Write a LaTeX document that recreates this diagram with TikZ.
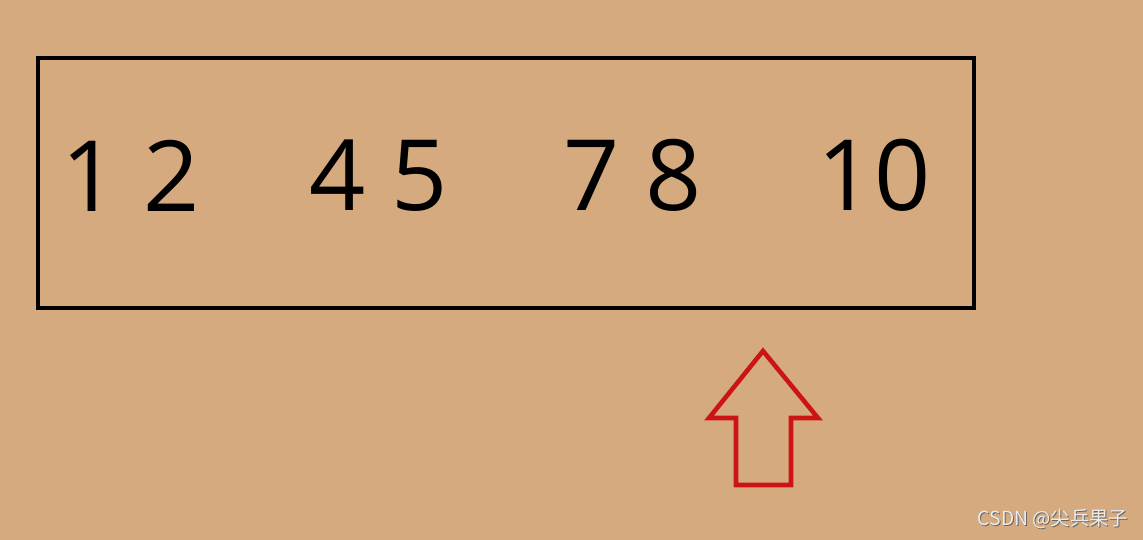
\documentclass[tikz,border=0pt]{standalone}
\usepackage{fontspec}
\setmainfont{Open Sans}
\newfontfamily\cjk{Noto Sans CJK SC}
\definecolor{tanbg}{RGB}{214,170,127}
\definecolor{arrowred}{RGB}{204,20,20}
\tikzset{
  numgroup/.style={inner sep=0pt,font=\fontsize{56}{68}\selectfont},
}
\begin{document}
\begin{tikzpicture}
  \fill[tanbg] (0,0) rectangle (22.86,10.8);
  \useasboundingbox (0,0) rectangle (22.86,10.8);

  \draw[line width=2.7pt] (0.76,9.64) rectangle (19.48,4.64);

  \node[numgroup] (g12) at (2.62,7.29) {1 2};
  \node[numgroup] (g45) at (7.58,7.29) {4 5};
  \node[numgroup] (g78) at (12.66,7.29) {7 8};
  \node[numgroup] (g10) at (17.48,7.29) {10};

  \draw[arrowred,line width=2.6pt,line join=miter]
    (15.26,3.78) -- (16.36,2.44) -- (15.82,2.44) -- (15.82,1.1)
    -- (14.72,1.1) -- (14.72,2.44) -- (14.18,2.44) -- cycle;

  \node[text=black!60,font=\cjk\fontsize{11}{13}\selectfont] at (21.08,0.40) {CSDN @尖兵果子};
  \node[text=white!92!black,font=\cjk\fontsize{11}{13}\selectfont] (mark) at (21.06,0.42) {CSDN @尖兵果子};
\end{tikzpicture}
\end{document}
